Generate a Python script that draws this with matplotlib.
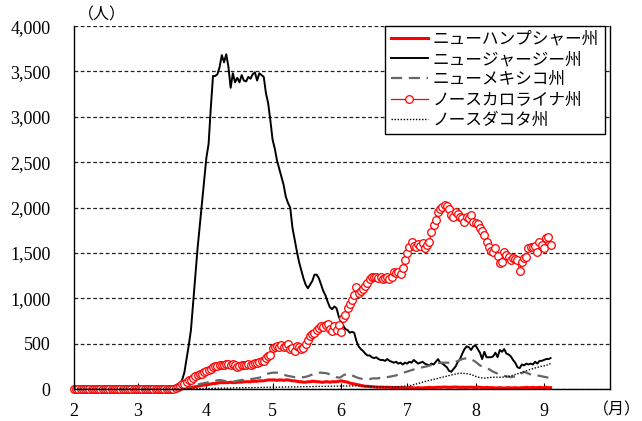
import numpy as np
import pandas as pd
import matplotlib
matplotlib.use('Agg')
import matplotlib.pyplot as plt
import matplotlib.dates as mdates
from matplotlib.ticker import FuncFormatter

plt.rcParams['font.family'] = ['Liberation Serif', 'Noto Sans CJK JP']

# 日次データ (2020/2/1 - 2020/9/4)
start_date = '2020-02-01'

new_hampshire = [
    0, 0, 0, 0, 0, 0, 0, 0, 0, 0, 0, 0, 0, 0, 0, 0, 0, 0, 0, 0, 0, 0, 0, 0, 0,
    0, 0, 0, 0, 0, 0, 0, 0, 0, 0, 0, 0, 0, 0, 0, 0, 0, 0, 0, 0, 0, 0, 0, 0, 0,
    5, 8, 10, 15, 20, 25, 30, 35, 40, 45,
    45, 50, 55, 60, 60, 65, 70, 70, 70, 70,
    70, 75, 70, 70, 75, 75, 75, 80, 80, 80,
    80, 85, 85, 85, 90, 90, 90, 95, 100, 100,
    100, 100, 95, 100, 100, 95, 100, 100, 95, 90,
    90, 85, 80, 80, 75, 75, 80, 80, 85, 85,
    80, 80, 75, 75, 80, 80, 75, 80, 80, 80,
    85, 90, 85, 80, 75, 65, 60, 55, 50, 45,
    40, 35, 30, 30, 28, 25, 25, 22, 20, 20,
    20, 18, 20, 18, 15, 15, 18, 15, 15, 15,
    15, 12, 15, 15, 12, 12, 15, 12, 12, 15,
    15, 18, 15, 15, 18, 20, 18, 20, 22, 20,
    18, 20, 20, 22, 20, 18, 20, 18, 18, 20,
    20, 18, 18, 20, 18, 15, 15, 18, 15, 15,
    15, 12, 12, 15, 12, 10, 12, 15, 12, 12,
    15, 12, 12, 15, 15, 18, 15, 15, 18, 15,
    15, 18, 15, 15, 18, 15, 15,
]

new_jersey = [
    0, 0, 0, 0, 0, 0, 0, 0, 0, 0, 0, 0, 0, 0, 0, 0, 0, 0, 0, 0, 0, 0, 0, 0, 0,
    0, 0, 0, 0, 0, 0, 0, 0, 0, 0, 0, 0, 0, 0, 0, 0, 0, 0, 0, 0,
    0, 10, 20, 40, 100,
    180, 330, 480, 650, 950, 1250, 1550, 1800, 2050, 2300,
    2550, 2700, 3100, 3450, 3450, 3470, 3550, 3680, 3600, 3690,
    3550, 3320, 3480, 3380, 3430, 3380, 3460, 3400, 3390, 3440,
    3420, 3470, 3490, 3400, 3480, 3460, 3440, 3260, 3150, 2960,
    2750, 2650, 2520, 2430, 2340, 2250, 2120, 2050, 2000, 1780,
    1650, 1520, 1400, 1310, 1220, 1150, 1110, 1150, 1190, 1260,
    1260, 1220, 1150, 1080, 1030, 960, 900, 880, 910, 890,
    800, 740, 700, 660, 650, 620, 630, 620, 530, 470,
    440, 420, 390, 370, 370, 350, 340, 350, 330, 320,
    320, 310, 330, 310, 300, 290, 300, 280, 290, 270,
    290, 280, 300, 290, 320, 300, 280, 290, 300, 280,
    270, 260, 280, 270, 300, 330, 290, 280, 260, 240,
    200, 190, 220, 250, 300, 330, 390, 440, 470, 460,
    430, 470, 480, 440, 400, 330, 410, 350, 350, 350,
    360, 400, 350, 430, 410, 440, 390, 380, 360, 320,
    290, 240, 230, 270, 260, 280, 270, 280, 270, 300,
    280, 310, 310, 320, 330, 330, 340,
]

new_mexico = [
    0, 0, 0, 0, 0, 0, 0, 0, 0, 0, 0, 0, 0, 0, 0, 0, 0, 0, 0, 0, 0, 0, 0, 0, 0,
    0, 0, 0, 0, 0, 0, 0, 0, 0, 0, 0, 0, 0, 0, 0, 0, 0, 0, 0, 0, 0, 0, 0, 0,
    5,
    10, 15, 20, 28, 35, 42, 50, 55, 60, 65,
    70, 75, 80, 85, 90, 95, 100, 95, 90, 85,
    80, 80, 80, 85, 90, 95, 100, 100, 100, 105,
    110, 112, 115, 120, 125, 135, 150, 160, 170, 175,
    180, 180, 180, 175, 170, 160, 150, 145, 140, 135,
    130, 130, 130, 130, 130, 135, 140, 150, 160, 170,
    180, 180, 180, 178, 175, 170, 160, 150, 140, 130,
    125, 130, 150, 160, 170, 160, 150, 140, 130, 120,
    115, 110, 110, 112, 110, 115, 118, 115, 120, 120,
    125, 128, 130, 135, 140, 145, 150, 160, 170, 178,
    185, 192, 200, 208, 215, 222, 230, 235, 240, 245,
    250, 258, 265, 272, 280, 285, 290, 290, 290, 290,
    290, 290, 290, 300, 310, 320, 330, 335, 340, 335,
    330, 315, 300, 280, 260, 250, 240, 230, 220, 205,
    190, 180, 170, 160, 150, 145, 140, 135, 130, 135,
    140, 150, 160, 175, 190, 180, 170, 160, 150, 150,
    150, 145, 140, 135, 130, 125, 120,
]

north_carolina = [
    0, 0, 0, 0, 0, 0, 0, 0, 0, 0, 0, 0, 0, 0, 0, 0, 0, 0, 0, 0, 0, 0, 0, 0, 0,
    0, 0, 0, 0, 0, 0, 0, 0, 0, 0, 0, 0, 0, 0, 0, 0, 0, 0, 0, 0,
    5, 10, 20, 30, 50,
    60, 80, 95, 100, 120, 140, 150, 160, 170, 190,
    200, 210, 220, 240, 250, 250, 260, 270, 270, 280,
    280, 270, 280, 260, 240, 250, 260, 270, 260, 280,
    270, 280, 290, 290, 300, 310, 310, 340, 360, 380,
    450, 460, 470, 460, 480, 460, 470, 500, 440, 450,
    420, 470, 460, 440, 450, 500, 540, 580, 610, 620,
    650, 670, 690, 680, 700, 720, 660, 640, 690, 650,
    700, 630, 780, 820, 890, 940, 980, 1040, 1120, 1060,
    1080, 1100, 1130, 1170, 1210, 1230, 1240, 1240, 1220, 1230,
    1210, 1220, 1230, 1210, 1240, 1290, 1280, 1290, 1270, 1330,
    1420, 1500, 1570, 1620, 1580, 1560, 1600, 1580, 1610, 1550,
    1590, 1620, 1730, 1810, 1860, 1950, 1980, 2010, 2030, 2020,
    1980, 1920, 1900, 1950, 1930, 1900, 1880, 1840, 1900, 1890,
    1920, 1840, 1830, 1820, 1770, 1740, 1700, 1620, 1570, 1520,
    1510, 1550, 1470, 1390, 1400, 1510, 1480, 1460, 1420, 1440,
    1430, 1420, 1300, 1400, 1440, 1460, 1550, 1560, 1570, 1580,
    1510, 1620, 1590, 1550, 1660, 1670, 1590,
]

north_dakota = [
    0, 0, 0, 0, 0, 0, 0, 0, 0, 0, 0, 0, 0, 0, 0, 0, 0, 0, 0, 0, 0, 0, 0, 0, 0,
    0, 0, 0, 0, 0, 0, 0, 0, 0, 0, 0, 0, 0, 0, 0, 0, 0, 0, 0, 0, 0, 0, 0, 0, 0,
    0, 0, 0, 0, 0,
    2, 3, 4, 5, 5,
    5, 6, 7, 8, 8, 8, 9, 10, 10, 10,
    10, 10, 12, 12, 12, 13, 13, 14, 14, 15,
    15, 15, 16, 16, 17, 17, 18, 18, 19, 20,
    20, 20, 20, 21, 21, 22, 22, 22, 23, 23,
    23, 24, 24, 25, 25, 25, 26, 26, 27, 27,
    28, 28, 28, 29, 29, 30, 30, 30, 31, 31,
    32, 32, 33, 33, 33, 34, 34, 34, 35, 35,
    35, 32, 30, 28, 26, 25, 24, 22, 22, 20,
    20, 20, 22, 22, 24, 24, 25, 26, 28, 30,
    30, 32, 35, 42, 50, 55, 60, 68, 75, 82,
    90, 95, 100, 105, 110, 118, 125, 130, 135, 142,
    150, 155, 160, 165, 170, 172, 175, 172, 170, 165,
    160, 150, 140, 132, 125, 122, 120, 122, 125, 128,
    130, 130, 130, 130, 130, 132, 135, 140, 145, 150,
    160, 168, 175, 182, 190, 200, 210, 218, 225, 232,
    240, 245, 250, 255, 260, 270, 280,
]

labels = ['ニューハンプシャー州', 'ニュージャージー州', 'ニューメキシコ州',
          'ノースカロライナ州', 'ノースダコタ州']

dates = pd.date_range(start_date, periods=len(new_jersey), freq='D')

fig = plt.figure(figsize=(6.42, 4.21), dpi=100)
ax = fig.add_axes([0.1153, 0.076, 0.835, 0.862])

ax.plot(dates, new_hampshire, color='#ff0000', lw=2.2, label=labels[0])
ax.plot(dates, new_jersey, color='black', lw=1.4, label=labels[1])
ax.plot(dates, new_mexico, color='#666666', lw=1.6, dashes=(5, 3), label=labels[2])
ax.plot(dates, north_carolina, color='#ff0000', lw=0.9, marker='o', markersize=5.5,
        markerfacecolor='white', markeredgecolor='#ff0000', markeredgewidth=0.9,
        label=labels[3], clip_on=False)
ax.plot(dates, north_dakota, color='black', lw=1.0, linestyle=(0, (1, 1.2)), label=labels[4])

ax.set_ylim(0, 4000)
ax.set_yticks(np.arange(0, 4001, 500))
ax.yaxis.set_major_formatter(FuncFormatter(lambda v, p: f'{int(v):,}'))
ax.set_xlim(pd.Timestamp('2020-02-01'), pd.Timestamp('2020-10-01'))
ax.xaxis.set_major_locator(mdates.MonthLocator(bymonth=range(2, 10)))
ax.xaxis.set_major_formatter(mdates.DateFormatter('%-m'))

ax.grid(axis='y', color='#222222', linestyle=(0, (3, 2)), linewidth=0.9)
ax.set_axisbelow(True)
ax.spines['top'].set_visible(False)
for s in ['left', 'right', 'bottom']:
    ax.spines[s].set_linewidth(1.0)
ax.tick_params(axis='x', direction='in', length=4, labelsize=13, pad=10)
ax.tick_params(axis='y', length=0, labelsize=13, pad=17)

# 単位
fig.text(78 / 642, 1 - 15 / 421, '（人）', fontsize=11.5, ha='left', va='center')
fig.text(641 / 642, 1 - 410 / 421, '（月）', fontsize=11.5, ha='right', va='center')

leg = ax.legend(loc='upper right', bbox_to_anchor=(0.99, 1.0), fontsize=12,
                frameon=True, fancybox=False, edgecolor='black', framealpha=1,
                handlelength=2.2, handletextpad=0.3, labelspacing=0.25,
                borderpad=0.35, borderaxespad=0)
leg.get_frame().set_linewidth(1.0)

plt.savefig('out.png', dpi=100)
